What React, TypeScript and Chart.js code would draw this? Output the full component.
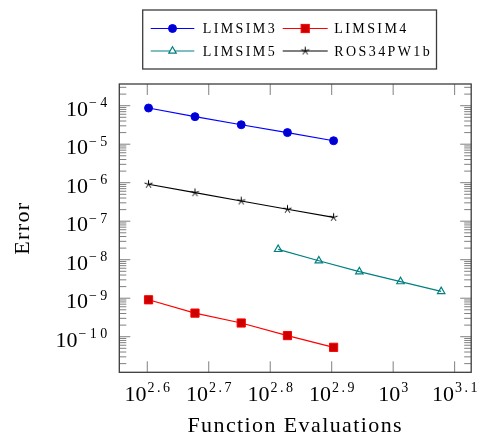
import React, { useEffect, useRef } from "react";
import { Chart, registerables } from "chart.js";

Chart.register(...registerables);

// ---- data ----
const evalsLimsim = [400, 476, 566, 673, 800];
const evalsLimsim5 = [650, 757, 881, 1028, 1197];
const errLimsim3 = [8.7e-5, 5.2e-5, 3.2e-5, 2.0e-5, 1.23e-5];
const errLimsim4 = [9.1e-10, 4.1e-10, 2.27e-10, 1.07e-10, 5.3e-11];
const errLimsim5 = [1.86e-8, 9.4e-9, 4.9e-9, 2.7e-9, 1.5e-9];
const errRos = [9.1e-7, 5.5e-7, 3.35e-7, 2.04e-7, 1.26e-7];
const seriesNames = ["LIMSIM3", "LIMSIM4", "LIMSIM5", "ROS34PW1b"];
const xTickExps = ["2.6", "2.7", "2.8", "2.9", "3", "3.1"];
const yTickExps = [-4, -5, -6, -7, -8, -9, -10];
const xTitle = "Function Evaluations";
const yTitle = "Error";
const X_MIN = 358.5;
const X_MAX = 1339.5;
const Y_MIN = 1.19e-11;
const Y_MAX = 3.66e-4;

const FONT = "'Liberation Serif', 'Times New Roman', serif";

const BLUE = "#0000ff";
const BLUE_FILL = "#0000cc";
const RED = "#ff0000";
const RED_FILL = "#cc0000";
const TEAL = "#008080";
const BLACK = "#000000";

function makeStar(size: number, r: number, color: string) {
  const c = document.createElement("canvas");
  c.width = size;
  c.height = size;
  const g = c.getContext("2d")!;
  g.strokeStyle = color;
  g.lineWidth = 1;
  const cx = size / 2;
  const cy = size / 2;
  g.beginPath();
  for (let i = 0; i < 5; i++) {
    const a = -Math.PI / 2 + (i * 2 * Math.PI) / 5;
    g.moveTo(cx, cy);
    g.lineTo(cx + r * Math.cos(a), cy + r * Math.sin(a));
  }
  g.stroke();
  return c;
}

function toPoints(xs: number[], ys: number[]) {
  return xs.map((x, i) => ({ x, y: ys[i] }));
}

function drawPow(
  ctx: CanvasRenderingContext2D,
  base: string,
  exp: string,
  x: number,
  baseY: number,
  expY: number,
  align: "center" | "right",
  expSpacing: number
) {
  ctx.textAlign = "left";
  ctx.textBaseline = "alphabetic";
  ctx.font = `22px ${FONT}`;
  (ctx as any).letterSpacing = "0px";
  const w1 = ctx.measureText(base).width;
  ctx.font = `14px ${FONT}`;
  (ctx as any).letterSpacing = `${expSpacing}px`;
  const w2 = ctx.measureText(exp).width - expSpacing;
  const gap = 1;
  const total = w1 + gap + w2;
  const x0 = align === "center" ? x - total / 2 : x - total;
  ctx.font = `22px ${FONT}`;
  (ctx as any).letterSpacing = "0px";
  ctx.fillText(base, x0, baseY);
  ctx.font = `14px ${FONT}`;
  (ctx as any).letterSpacing = `${expSpacing}px`;
  ctx.fillText(exp, x0 + w1 + gap, expY);
}

function drawMarker(ctx: CanvasRenderingContext2D, kind: string, x: number, y: number, star: HTMLCanvasElement) {
  ctx.save();
  if (kind === "circle") {
    ctx.beginPath();
    ctx.arc(x, y, 4, 0, Math.PI * 2);
    ctx.fillStyle = BLUE_FILL;
    ctx.fill();
    ctx.strokeStyle = BLUE;
    ctx.lineWidth = 1;
    ctx.stroke();
  } else if (kind === "rect") {
    const h = 4.1;
    ctx.fillStyle = RED_FILL;
    ctx.fillRect(x - h, y - h, 2 * h, 2 * h);
    ctx.strokeStyle = RED;
    ctx.lineWidth = 1;
    ctx.strokeRect(x - h, y - h, 2 * h, 2 * h);
  } else if (kind === "triangle") {
    const r = 4.3;
    ctx.beginPath();
    for (let i = 0; i < 3; i++) {
      const a = -Math.PI / 2 + (i * 2 * Math.PI) / 3;
      const px = x + r * Math.cos(a);
      const py = y + r * Math.sin(a);
      if (i === 0) ctx.moveTo(px, py);
      else ctx.lineTo(px, py);
    }
    ctx.closePath();
    ctx.fillStyle = "#ffffff";
    ctx.fill();
    ctx.strokeStyle = TEAL;
    ctx.lineWidth = 1.2;
    ctx.stroke();
  } else {
    ctx.drawImage(star, x - star.width / 2, y - star.height / 2);
  }
  ctx.restore();
}

export default function App() {
  const ref = useRef<HTMLCanvasElement>(null);

  useEffect(() => {
    const canvas = ref.current;
    if (!canvas) return;
    const star = makeStar(11, 4.2, BLACK);

    const legendItems = [
      { name: seriesNames[0], color: BLUE, kind: "circle", col: 0, row: 0 },
      { name: seriesNames[1], color: RED, kind: "rect", col: 1, row: 0 },
      { name: seriesNames[2], color: TEAL, kind: "triangle", col: 0, row: 1 },
      { name: seriesNames[3], color: BLACK, kind: "star", col: 1, row: 1 },
    ];

    const decor = {
      id: "decor",
      beforeDraw(chart: any) {
        (chart.ctx as any).letterSpacing = "1.4px";
      },
      afterDraw(chart: any) {
        const ctx: CanvasRenderingContext2D = chart.ctx;
        ctx.save();
        (ctx as any).letterSpacing = "0px";
        const { left, right, top, bottom } = chart.chartArea;
        const xs = chart.scales.x;
        const ys = chart.scales.y;

        // ticks
        ctx.strokeStyle = "#808080";
        ctx.lineWidth = 1;
        ctx.beginPath();
        for (const e of xTickExps) {
          const px = xs.getPixelForValue(Math.pow(10, parseFloat(e)));
          ctx.moveTo(px, bottom);
          ctx.lineTo(px, bottom - 11);
          ctx.moveTo(px, top);
          ctx.lineTo(px, top + 11);
        }
        for (let d = -12; d <= -3; d++) {
          for (let k = 1; k <= 9; k++) {
            const v = k * Math.pow(10, d);
            if (v < Y_MIN || v > Y_MAX) continue;
            const py = ys.getPixelForValue(v);
            const len = k === 1 ? 11 : 7;
            ctx.moveTo(left, py);
            ctx.lineTo(left + len, py);
            ctx.moveTo(right, py);
            ctx.lineTo(right - len, py);
          }
        }
        ctx.stroke();

        // frame
        ctx.strokeStyle = "#3c3c3c";
        ctx.lineWidth = 1.3;
        ctx.strokeRect(left, top, right - left, bottom - top);

        // tick labels
        ctx.fillStyle = "#000";
        for (const e of xTickExps) {
          const px = xs.getPixelForValue(Math.pow(10, parseFloat(e)));
          drawPow(ctx, "10", e, px, bottom + 28.5, bottom + 20, "center", 2.5);
        }
        for (const e of yTickExps) {
          const py = ys.getPixelForValue(Math.pow(10, e));
          drawPow(ctx, "10", "\u2212" + String(Math.abs(e)), left - 12, py + 10, py + 1.5, "right", 3.5);
        }

        // legend
        const bx = 142.7;
        const by = 10;
        const bw = 293.8;
        const bh = 59;
        ctx.fillStyle = "#fff";
        ctx.fillRect(bx, by, bw, bh);
        ctx.strokeStyle = "#3c3c3c";
        ctx.lineWidth = 1.3;
        ctx.strokeRect(bx, by, bw, bh);
        const lineX = [
          [150.7, 194.3],
          [282.7, 327.7],
        ];
        const textX = [202.7, 334.3];
        const rowY = [28.5, 51];
        for (const it of legendItems) {
          const [x0, x1] = lineX[it.col];
          const y = rowY[it.row];
          ctx.strokeStyle = it.color;
          ctx.lineWidth = 1.2;
          ctx.beginPath();
          ctx.moveTo(x0, y);
          ctx.lineTo(x1, y);
          ctx.stroke();
          drawMarker(ctx, it.kind, (x0 + x1) / 2, y, star);
          ctx.fillStyle = "#000";
          ctx.font = `14px ${FONT}`;
          (ctx as any).letterSpacing = "2.4px";
          ctx.textAlign = "left";
          ctx.textBaseline = "alphabetic";
          ctx.fillText(it.name, textX[it.col], y + 4.7);
        }
        ctx.restore();
        (ctx as any).letterSpacing = "0px";
      },
    };

    const chart = new Chart(canvas, {
      type: "scatter",
      data: {
        datasets: [
          {
            label: seriesNames[0],
            data: toPoints(evalsLimsim, errLimsim3),
            showLine: true,
            borderColor: BLUE,
            backgroundColor: BLUE_FILL,
            borderWidth: 1.2,
            pointStyle: "circle",
            pointRadius: 4,
            pointBackgroundColor: BLUE_FILL,
            pointBorderColor: BLUE,
            pointBorderWidth: 1,
          },
          {
            label: seriesNames[1],
            data: toPoints(evalsLimsim, errLimsim4),
            showLine: true,
            borderColor: RED,
            backgroundColor: RED_FILL,
            borderWidth: 1.2,
            pointStyle: "rect",
            pointRadius: 5.8,
            pointBackgroundColor: RED_FILL,
            pointBorderColor: RED,
            pointBorderWidth: 1,
          },
          {
            label: seriesNames[2],
            data: toPoints(evalsLimsim5, errLimsim5),
            showLine: true,
            borderColor: TEAL,
            backgroundColor: "rgba(0,0,0,0)",
            borderWidth: 1.2,
            pointStyle: "triangle",
            pointRadius: 4.3,
            pointBackgroundColor: "rgba(0,0,0,0)",
            pointBorderColor: TEAL,
            pointBorderWidth: 1.2,
          },
          {
            label: seriesNames[3],
            data: toPoints(evalsLimsim, errRos),
            showLine: true,
            borderColor: BLACK,
            backgroundColor: BLACK,
            borderWidth: 1.2,
            pointStyle: star as any,
            pointRadius: 4,
            pointBorderColor: BLACK,
          },
        ],
      },
      options: {
        responsive: false,
        animation: false,
        layout: { padding: { top: 84, right: 5.7, left: 0, bottom: 0 } },
        plugins: {
          legend: { display: false },
          tooltip: { enabled: false },
        },
        scales: {
          x: {
            type: "logarithmic",
            min: X_MIN,
            max: X_MAX,
            grid: { display: false },
            border: { display: false },
            ticks: { display: false },
            title: {
              display: true,
              text: xTitle,
              color: "#000",
              font: { family: FONT, size: 22, weight: "normal" },
              padding: { top: 0, bottom: 0 },
            },
            afterFit: (s: any) => {
              s.height = 66.7;
            },
          },
          y: {
            type: "logarithmic",
            min: Y_MIN,
            max: Y_MAX,
            grid: { display: false },
            border: { display: false },
            ticks: { display: false },
            title: {
              display: true,
              text: yTitle,
              color: "#000",
              font: { family: FONT, size: 22, weight: "normal" },
              padding: { top: 10, bottom: 0 },
            },
            afterFit: (s: any) => {
              s.width = 119.3;
            },
          },
        },
      } as any,
      plugins: [decor as any],
    });

    return () => chart.destroy();
  }, []);

  return (
    <div style={{ position: "fixed", left: 0, top: 0, width: 478, height: 439, background: "#fff" }}>
      <canvas ref={ref} width={478} height={439} style={{ display: "block", width: 478, height: 439 }} />
    </div>
  );
}
